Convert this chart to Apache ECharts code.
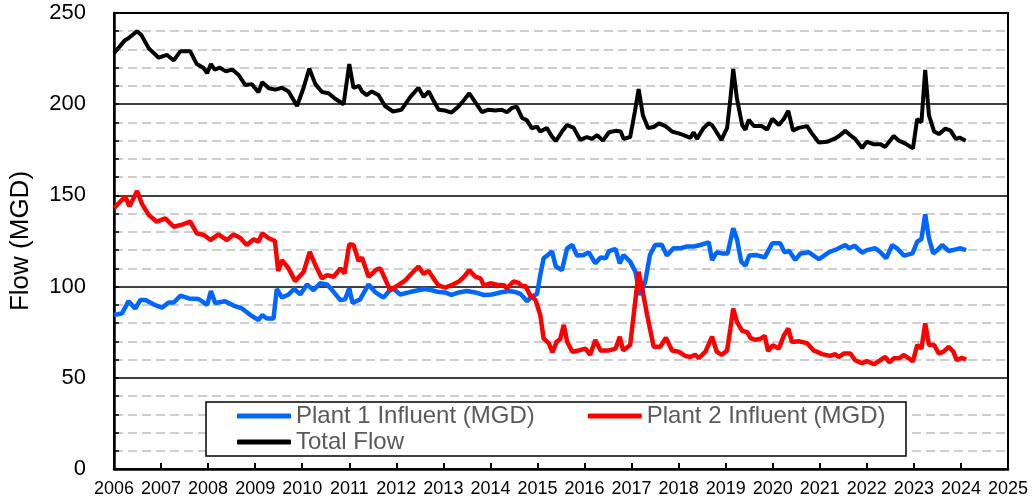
<!DOCTYPE html>
<html>
<head>
<meta charset="utf-8">
<title>Flow</title>
<script src="https://cdn.jsdelivr.net/npm/echarts@6/dist/echarts.min.js"></script>
<style>
  html, body { margin: 0; padding: 0; background: #fff; }
  #chart { width: 1032px; height: 503px; }
</style>
</head>
<body>
<div id="chart"></div>
<script>
// time in decimal years, flow in MGD
var p1Years = [2006.0, 2006.17, 2006.31, 2006.45, 2006.56, 2006.67, 2006.84, 2007.02, 2007.16, 2007.27, 2007.41, 2007.59, 2007.8, 2007.98, 2008.06, 2008.15, 2008.36, 2008.54, 2008.72, 2008.9, 2009.07, 2009.15, 2009.25, 2009.39, 2009.46, 2009.57, 2009.71, 2009.83, 2009.96, 2010.1, 2010.24, 2010.38, 2010.53, 2010.67, 2010.81, 2010.91, 2011.0, 2011.07, 2011.23, 2011.41, 2011.55, 2011.73, 2011.91, 2012.08, 2012.29, 2012.47, 2012.61, 2012.76, 2012.9, 2013.04, 2013.17, 2013.33, 2013.5, 2013.68, 2013.86, 2014.03, 2014.21, 2014.39, 2014.53, 2014.64, 2014.78, 2014.88, 2014.99, 2015.06, 2015.13, 2015.24, 2015.31, 2015.39, 2015.52, 2015.63, 2015.74, 2015.84, 2015.98, 2016.09, 2016.23, 2016.34, 2016.45, 2016.52, 2016.66, 2016.75, 2016.83, 2016.97, 2017.08, 2017.18, 2017.29, 2017.39, 2017.5, 2017.64, 2017.75, 2017.89, 2018.03, 2018.17, 2018.32, 2018.46, 2018.64, 2018.71, 2018.81, 2018.92, 2019.04, 2019.16, 2019.24, 2019.33, 2019.42, 2019.5, 2019.66, 2019.83, 2019.99, 2020.16, 2020.25, 2020.35, 2020.48, 2020.59, 2020.77, 2020.98, 2021.19, 2021.37, 2021.54, 2021.63, 2021.74, 2021.9, 2022.0, 2022.18, 2022.29, 2022.41, 2022.54, 2022.64, 2022.79, 2022.97, 2023.07, 2023.16, 2023.24, 2023.32, 2023.41, 2023.5, 2023.6, 2023.74, 2023.89, 2023.99, 2024.11];
var p1Flow = [84.4, 85.3, 92, 88, 92.6, 92.6, 90.3, 88.4, 91.3, 91.3, 95, 93.5, 93.2, 90, 97.6, 91, 92, 89.6, 88, 84.4, 81.7, 84.4, 82.5, 82.5, 98.7, 94, 95.7, 98.7, 95.7, 101.2, 98, 101.8, 101.2, 97, 92.6, 93, 99, 91, 93, 101.2, 97, 94, 99.5, 95.7, 97, 98, 98.7, 98, 97, 96.8, 95.4, 96.8, 97.6, 96.8, 95.4, 95.7, 96.8, 97.6, 97, 96, 92, 94.6, 96, 106.4, 115.5, 117.7, 119.2, 111, 109, 121, 122.8, 117, 117.3, 118.8, 112.8, 116, 115.5, 119.5, 120.6, 112.8, 117.3, 113.7, 108.2, 95.4, 102.7, 117.3, 122.8, 123, 117, 121, 121, 122, 122, 122.8, 124.3, 114.6, 118.8, 118.2, 118.2, 132, 126, 113.7, 111.5, 117, 117.3, 116, 123.7, 123.7, 118.8, 119.5, 114.6, 118.2, 118.8, 115, 118.8, 120.6, 122.8, 121, 122.4, 118.6, 120, 121, 118.8, 115.5, 122.8, 121, 117, 118.2, 124.6, 126, 139.6, 126.4, 118.2, 120, 122.8, 119.5, 120.4, 121, 120];

var p2Years = [2006.0, 2006.1, 2006.24, 2006.33, 2006.49, 2006.6, 2006.74, 2006.91, 2007.09, 2007.27, 2007.45, 2007.62, 2007.76, 2007.91, 2008.05, 2008.22, 2008.4, 2008.54, 2008.68, 2008.82, 2008.97, 2009.07, 2009.15, 2009.29, 2009.42, 2009.49, 2009.57, 2009.71, 2009.85, 2010.03, 2010.16, 2010.28, 2010.42, 2010.53, 2010.67, 2010.81, 2010.9, 2011.0, 2011.09, 2011.2, 2011.27, 2011.41, 2011.59, 2011.66, 2011.87, 2012.05, 2012.19, 2012.3, 2012.47, 2012.58, 2012.69, 2012.79, 2012.9, 2013.04, 2013.19, 2013.33, 2013.44, 2013.55, 2013.68, 2013.79, 2013.86, 2014.0, 2014.14, 2014.29, 2014.35, 2014.49, 2014.6, 2014.68, 2014.74, 2014.84, 2014.96, 2015.06, 2015.13, 2015.24, 2015.32, 2015.41, 2015.48, 2015.56, 2015.63, 2015.74, 2015.88, 2016.02, 2016.12, 2016.23, 2016.34, 2016.52, 2016.66, 2016.75, 2016.82, 2016.97, 2017.07, 2017.15, 2017.24, 2017.33, 2017.47, 2017.61, 2017.73, 2017.86, 2018.0, 2018.14, 2018.25, 2018.35, 2018.43, 2018.57, 2018.71, 2018.81, 2018.92, 2019.03, 2019.1, 2019.16, 2019.24, 2019.35, 2019.46, 2019.53, 2019.63, 2019.74, 2019.83, 2019.9, 2020.0, 2020.13, 2020.24, 2020.33, 2020.41, 2020.55, 2020.73, 2020.87, 2021.05, 2021.22, 2021.33, 2021.4, 2021.51, 2021.65, 2021.75, 2021.9, 2022.0, 2022.15, 2022.25, 2022.39, 2022.48, 2022.57, 2022.68, 2022.79, 2022.89, 2022.98, 2023.07, 2023.16, 2023.24, 2023.32, 2023.43, 2023.53, 2023.63, 2023.74, 2023.84, 2023.91, 2024.02, 2024.11];
var p2Flow = [143, 145.7, 149.3, 144, 152.4, 145, 139.3, 135.6, 137.4, 132.8, 134, 135.6, 129.2, 128.3, 125.5, 128.6, 125.5, 128.6, 126.8, 122.8, 126, 124.6, 129.2, 126.5, 125, 108.5, 114.5, 110, 103, 108, 119, 111.8, 104.5, 106.3, 105.4, 110, 107.2, 123.2, 122.8, 114, 116, 105.4, 109.6, 110, 98, 101, 103.4, 106.5, 111, 107, 108.5, 104.5, 100.5, 99.4, 101, 102.8, 105.4, 109, 105.4, 104.5, 100.5, 101.8, 101, 100.8, 99, 102.8, 102, 100, 100.6, 95.4, 92.6, 84.4, 71.6, 68.9, 64, 69.8, 71, 79, 69.8, 64.3, 65, 66, 62.6, 70.7, 65, 65, 66, 72.5, 65, 68, 90, 108.2, 97, 84.5, 67, 67, 72, 65, 64.3, 62, 61.4, 62.6, 60.8, 64.3, 72.5, 64.3, 62.6, 65, 77, 88, 80.7, 75.7, 75, 71.8, 70.8, 71.4, 73, 64.7, 67.8, 66, 73.4, 77, 69.6, 70, 69, 65, 63, 62, 63, 61.4, 63.3, 63.3, 59.6, 58, 59.2, 57.4, 59, 61.5, 58.5, 60.7, 60.7, 62.5, 60.7, 59, 68, 66, 79.9, 68, 68, 63.3, 64.3, 67, 64.3, 59.6, 61, 60];

var totalYears = [2006.0, 2006.1, 2006.23, 2006.3, 2006.49, 2006.58, 2006.74, 2006.95, 2007.13, 2007.27, 2007.41, 2007.62, 2007.76, 2007.91, 2007.98, 2008.06, 2008.14, 2008.25, 2008.38, 2008.51, 2008.65, 2008.79, 2008.93, 2009.07, 2009.15, 2009.29, 2009.43, 2009.57, 2009.71, 2009.89, 2010.03, 2010.15, 2010.28, 2010.42, 2010.56, 2010.7, 2010.88, 2011.0, 2011.09, 2011.21, 2011.27, 2011.37, 2011.48, 2011.62, 2011.76, 2011.93, 2012.11, 2012.3, 2012.47, 2012.58, 2012.69, 2012.79, 2012.9, 2013.04, 2013.17, 2013.29, 2013.4, 2013.55, 2013.68, 2013.82, 2013.96, 2014.1, 2014.24, 2014.35, 2014.46, 2014.56, 2014.67, 2014.78, 2014.88, 2014.99, 2015.06, 2015.2, 2015.31, 2015.39, 2015.52, 2015.63, 2015.77, 2015.91, 2016.05, 2016.16, 2016.27, 2016.39, 2016.52, 2016.66, 2016.77, 2016.83, 2016.97, 2017.07, 2017.15, 2017.24, 2017.35, 2017.47, 2017.58, 2017.72, 2017.86, 2018.0, 2018.11, 2018.25, 2018.32, 2018.39, 2018.53, 2018.64, 2018.71, 2018.91, 2019.03, 2019.1, 2019.16, 2019.24, 2019.35, 2019.42, 2019.49, 2019.6, 2019.77, 2019.88, 2019.99, 2020.13, 2020.24, 2020.33, 2020.43, 2020.55, 2020.73, 2020.83, 2020.98, 2021.15, 2021.33, 2021.43, 2021.54, 2021.65, 2021.75, 2021.9, 2022.0, 2022.15, 2022.29, 2022.39, 2022.57, 2022.68, 2022.82, 2022.98, 2023.07, 2023.16, 2023.24, 2023.32, 2023.43, 2023.53, 2023.67, 2023.78, 2023.89, 2023.97, 2024.1];
var totalFlow = [228, 231, 235, 236, 240, 238, 230.6, 225.5, 227, 224, 229, 229, 222, 219.7, 217, 222, 219, 220, 218, 219, 216, 210.5, 211, 206.5, 212, 208.7, 208, 209, 207, 199, 209, 219.6, 211, 206.7, 206, 203, 200, 222, 209, 210, 207, 205, 207, 205, 199, 196, 197, 204, 209, 204, 207, 202, 197, 196.5, 195.4, 198, 201, 206, 201, 195.6, 197, 196.5, 197, 195.6, 198, 198.7, 192.6, 191, 186.8, 187.7, 185, 187, 182.2, 179.8, 185, 188.6, 187, 180.4, 182, 181, 183, 180, 184.6, 185.4, 185, 181, 182, 196, 208.3, 194, 187, 187.5, 189.5, 188, 185, 184, 183, 181.6, 184.6, 181, 187, 189.5, 188.6, 180.4, 187, 203, 219.3, 203, 188.6, 186, 191.4, 188, 188, 186, 192, 188.6, 192, 196.5, 185.5, 187, 188, 184, 179, 179.4, 181.3, 183, 185.5, 183, 181, 176, 179.5, 178, 178, 176.6, 182.6, 180, 178.4, 175.8, 191.9, 190, 218.8, 194, 185, 183.6, 186.6, 185.5, 181, 181.7, 180];

var seriesNames = ['Plant 1 Influent (MGD)', 'Plant 2 Influent (MGD)', 'Total Flow'];
var seriesColors = ['#0066FF', '#FF0000', '#000000'];

function pairs(xs, ys) {
    return xs.map(function (x, i) { return [x, ys[i]]; });
}

var FONT = '"Liberation Sans", Arial, sans-serif';
var chart = echarts.init(document.getElementById('chart'));

var legendText = { color: '#595959', fontSize: 24, fontFamily: FONT };

chart.setOption({
    animation: false,
    backgroundColor: '#fff',
    grid: {
        left: 114, right: 24, top: 13, bottom: 34,
        show: true, borderColor: '#000', borderWidth: 2
    },
    xAxis: {
        type: 'value', min: 2006, max: 2025, interval: 1,
        axisLine: { lineStyle: { color: '#000', width: 2.5 } },
        axisTick: { inside: true, length: 6, lineStyle: { color: '#000', width: 2 } },
        axisLabel: {
            color: '#000', fontSize: 18, fontFamily: FONT, margin: 11,
            formatter: function (v) { return String(v); }
        },
        splitLine: { show: false }
    },
    yAxis: {
        type: 'value', min: 0, max: 250, interval: 50,
        name: 'Flow (MGD)', nameLocation: 'middle', nameGap: 80,
        nameTextStyle: { color: '#000', fontSize: 26, fontFamily: FONT },
        axisLine: { show: true, lineStyle: { color: '#000', width: 2.5 } },
        axisTick: { show: true, inside: true, length: 5, lineStyle: { color: '#000', width: 1.5 } },
        minorTick: { show: true, splitNumber: 5, length: 5, lineStyle: { color: '#000', width: 1.5 } },
        axisLabel: { color: '#000', fontSize: 22, fontFamily: FONT, margin: 28 },
        splitLine: { show: true, lineStyle: { color: '#000', width: 1.5 } },
        minorSplitLine: { show: true, lineStyle: { color: '#BFBFBF', width: 1.5, type: [9, 5] } }
    },
    graphic: [{
        type: 'rect', z: 3,
        shape: { x: 206, y: 402, width: 700, height: 54 },
        style: { fill: '#fff', stroke: '#000', lineWidth: 1.5 }
    }],
    legend: [{
        data: [seriesNames[0], seriesNames[1]],
        left: 237, top: 404, padding: 0, itemGap: 53,
        itemWidth: 54, itemHeight: 5, icon: 'roundRect',
        selectedMode: false, textStyle: legendText
    }, {
        data: [seriesNames[2]],
        left: 237, top: 430, padding: 0,
        itemWidth: 54, itemHeight: 5, icon: 'roundRect',
        selectedMode: false, textStyle: legendText
    }],
    series: [
        { name: seriesNames[0], type: 'line', data: pairs(p1Years, p1Flow), symbol: 'none',
          lineStyle: { color: seriesColors[0], width: 4.5 }, itemStyle: { color: seriesColors[0] } },
        { name: seriesNames[1], type: 'line', data: pairs(p2Years, p2Flow), symbol: 'none',
          lineStyle: { color: seriesColors[1], width: 4.5 }, itemStyle: { color: seriesColors[1] } },
        { name: seriesNames[2], type: 'line', data: pairs(totalYears, totalFlow), symbol: 'none',
          lineStyle: { color: seriesColors[2], width: 4 }, itemStyle: { color: seriesColors[2] } }
    ]
});
</script>
</body>
</html>
